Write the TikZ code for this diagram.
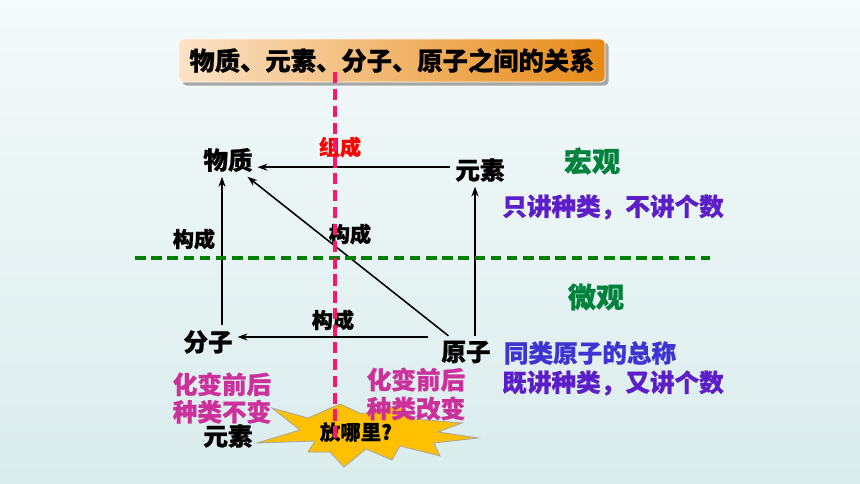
\documentclass[tikz,border=0pt]{standalone}
\usepackage{fontspec}
\setmainfont{Noto Sans CJK SC}[BoldFeatures={FakeBold=0.8}]
\usetikzlibrary{arrows.meta,shadows}

\definecolor{bgtop}{RGB}{245,250,251}
\definecolor{bgbot}{RGB}{218,236,236}
\definecolor{titleL}{RGB}{251,226,198}
\definecolor{titleR}{RGB}{230,138,22}
\definecolor{starY}{RGB}{255,192,0}
\definecolor{pinkL}{RGB}{255,20,110}
\definecolor{greenL}{RGB}{0,128,0}
\definecolor{greenT}{RGB}{0,130,60}
\definecolor{magT}{RGB}{204,48,155}
\definecolor{purT}{RGB}{92,30,200}
\definecolor{bluT}{RGB}{62,52,212}

\tikzset{
  big/.style={font=\fontsize{17.5}{20}\selectfont\bfseries},
  small/.style={font=\fontsize{15}{18}\selectfont\bfseries},
  head/.style={font=\fontsize{20}{24}\selectfont\bfseries, text=greenT},
  note/.style={font=\fontsize{17.5}{19.5}\selectfont\bfseries, align=center},
  arr/.style={-{Stealth[length=7pt,width=5pt]}, line width=1.1pt},
  titlebox/.style={rounded corners=3pt, left color=titleL, right color=titleR,
    draw=white!85!titleL, line width=0.6pt, minimum width=10.65cm, minimum height=1.075cm,
    drop shadow={shadow xshift=2.5pt, shadow yshift=-2.5pt, fill=gray!80, opacity=0.85},
    font=\fontsize{18}{22}\selectfont\bfseries},
  burst/.style={fill=starY, draw=gray!70, line width=0.6pt},
}

\begin{document}
\begin{tikzpicture}[x=0.025cm, y=-0.025cm]
  \useasboundingbox (0,0) rectangle (860,484);
  \fill[top color=bgtop, bottom color=bgbot] (0,0) rectangle (860,484);

  % title
  \node[titlebox] (title) at (392,60.5) {物质、元素、分子、原子之间的关系};

  % the star
  \filldraw[burst] (272,408) -- (308,418) -- (340,404) -- (362,414) -- (398,405)
    -- (415,419) -- (462,423) -- (438,432) -- (478,438) -- (434,443) -- (440,456)
    -- (400,446) -- (392,460) -- (366,449) -- (344,467) -- (330,452) -- (308,452)
    -- (315,441) -- (257,443) -- (300,430) -- cycle;

  % macro side
  \node[big] (wuzhi) at (228,160) {物质};
  \node[big] (yuansu) at (480,170) {元素};
  \node[small, text=red] (zucheng) at (340,147) {组成};
  \node[head] (hong) at (592,161) {宏观};
  \node[big, text=purT] (onlykind) at (613,207) {只讲种类，不讲个数};

  % micro side
  \node[big] (fenzi) at (208,342) {分子};
  \node[big] (yuanzi) at (466,352) {原子};
  \node[small] (gcleft) at (194,239) {构成};
  \node[small] (gcmid) at (350,234) {构成};
  \node[small] (gclow) at (333,320) {构成};
  \node[head] (wei) at (596,297) {微观};
  \node[big, text=bluT] (same) at (590,353) {同类原子的总称};
  \node[big, text=purT] (both) at (613,383) {既讲种类，又讲个数};

  % bottom notes
  \node[note, text=magT] (keep) at (222,398) {化变前后\\种类不变};
  \node[note, text=magT, font=\fontsize{17.5}{20.5}\selectfont\bfseries] (change) at (416,394) {化变前后\\种类改变};
  \node[big] (yuansu2) at (228,436) {元素};
  \node[font=\fontsize{14.5}{17}\selectfont\bfseries] (where) at (356,432) {放哪里?};

  % connectors
  \draw[arr] ([yshift=2pt]yuansu.west) -- ([yshift=2pt]yuansu.west -| wuzhi.east);
  \draw[arr] ([xshift=0.35cm]fenzi.north) -- ([xshift=0.35cm]fenzi.north |- wuzhi.south);
  \draw[arr] ([xshift=0.225cm]yuanzi.north) -- ([xshift=0.225cm]yuanzi.north |- yuansu.south);
  \draw[arr] ([xshift=0.3cm]yuanzi.north west) -- ([xshift=-0.25cm]wuzhi.south east);
  \draw[arr] ([yshift=0.375cm,xshift=-0.2cm]yuanzi.west) -- ([yshift=0.375cm]yuanzi.west -| fenzi.east);

  % dividing lines
  \coordinate (gl) at (135,258);
  \coordinate (gr) at (710,258);
  \draw[greenL, line width=2.4pt, dash pattern=on 7.5pt off 4pt] (gl) -- (gr);
  \coordinate (pt) at (335,72);
  \coordinate (pb) at (335,442);
  \draw[pinkL, line width=2.3pt, dash pattern=on 8pt off 4pt] (pt) -- (pb);
\end{tikzpicture}
\end{document}
